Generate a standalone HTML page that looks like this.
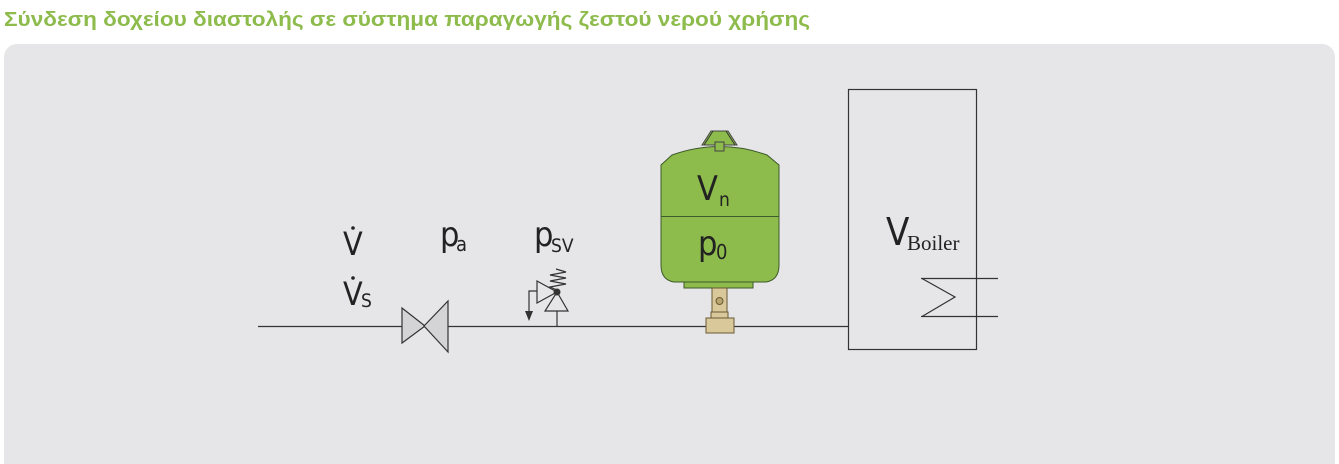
<!DOCTYPE html>
<html><head><meta charset="utf-8"><style>
html,body{margin:0;padding:0;background:#fff;width:1339px;height:464px;overflow:hidden}
svg{display:block}
</style></head><body>
<svg width="1339" height="464" viewBox="0 0 1339 464" xmlns="http://www.w3.org/2000/svg">
<text x="4" y="26" font-family="'Liberation Sans',sans-serif" font-weight="bold" font-size="20" fill="#8dbb4c" textLength="806" lengthAdjust="spacingAndGlyphs">Σύνδεση δοχείου διαστολής σε σύστημα παραγωγής ζεστού νερού χρήσης</text>
<rect x="4" y="44" width="1331" height="440" rx="13" fill="#e6e6e8"/>
<g stroke="#333" stroke-width="1.2" fill="none">
<line x1="258" y1="326.5" x2="848" y2="326.5"/>
<rect x="848.5" y="89.5" width="128" height="260"/>
<line x1="921" y1="278.5" x2="998" y2="278.5"/>
<line x1="921" y1="316.5" x2="998" y2="316.5"/>
<polyline points="922,278.5 955,297 922,316.5"/>
<line x1="557" y1="326" x2="557" y2="311"/>
<polyline points="537,291 529,291 529,312"/>
<polyline points="557,290 550,287 566,284 550,281 566,278 550,275 566,272 556,269"/>
</g>
<polygon points="525,311 533,311 529,321" fill="#333"/>
<g stroke="#333" stroke-width="1.2" fill="#d4d4d6">
<polygon points="402,308 402,343 425,326"/>
<polygon points="448,301 448,352 424,326"/>
<polygon points="545,311 568,311 557,292" fill="#e6e6e8"/>
<polygon points="537,281 537,303 557,292" fill="#e6e6e8"/>
</g>
<circle cx="557" cy="292" r="3.5" fill="#333"/>
<g stroke="#3d5a2a" stroke-width="1">
<polygon points="702,145 711,131 728,131 737,145" fill="#8dbb4c" stroke="#444"/>
<line x1="704" y1="145" x2="713" y2="131" stroke="#333"/>
<line x1="735" y1="145" x2="726" y2="131" stroke="#333"/>
<path d="M661,165 L672,155 Q720,138 767,155 L779,165 L779,265 Q779,280 766,282 L674,282 Q661,280 661,265 Z" fill="#8dbb4c"/>
<line x1="661" y1="216.5" x2="779" y2="216.5"/>
<rect x="684" y="282" width="69" height="6" fill="#8dbb4c"/>
</g>
<rect x="715" y="142" width="9" height="9" fill="#8dbb4c" stroke="#444" stroke-width="1"/>
<g stroke="#6b5a35" stroke-width="1" fill="#d9c89a">
<rect x="712" y="288" width="15" height="25"/>
<circle cx="719.5" cy="301" r="3.5" fill="#b9a470"/>
<rect x="711" y="312" width="17" height="7"/>
<rect x="706" y="318" width="28" height="15"/>
</g>
<g font-family="'Liberation Sans Narrow','DejaVu Sans Condensed','Liberation Sans',sans-serif" fill="#222">
<text x="697" y="200" font-size="34">V</text>
<text x="719" y="206" font-size="19">n</text>
<text x="698" y="255" font-size="34">p</text>
<text x="716" y="259" font-size="20">0</text>
<text x="343" y="255" font-size="32">V</text>
<text x="343" y="305" font-size="32">V</text>
<text x="361" y="307" font-size="19">S</text>
<circle cx="353" cy="228" r="1.8"/>
<circle cx="353" cy="278" r="1.8"/>
<text x="440" y="246" font-size="34">p</text>
<text x="456" y="251" font-size="20">a</text>
<text x="534" y="246" font-size="34">p</text>
<text x="551" y="252" font-size="19">SV</text>
<text x="886" y="245" font-size="38">V</text>
<text x="907" y="250" font-size="21" font-family="'Liberation Serif',serif">Boiler</text>
</g>
</svg>
</body></html>
